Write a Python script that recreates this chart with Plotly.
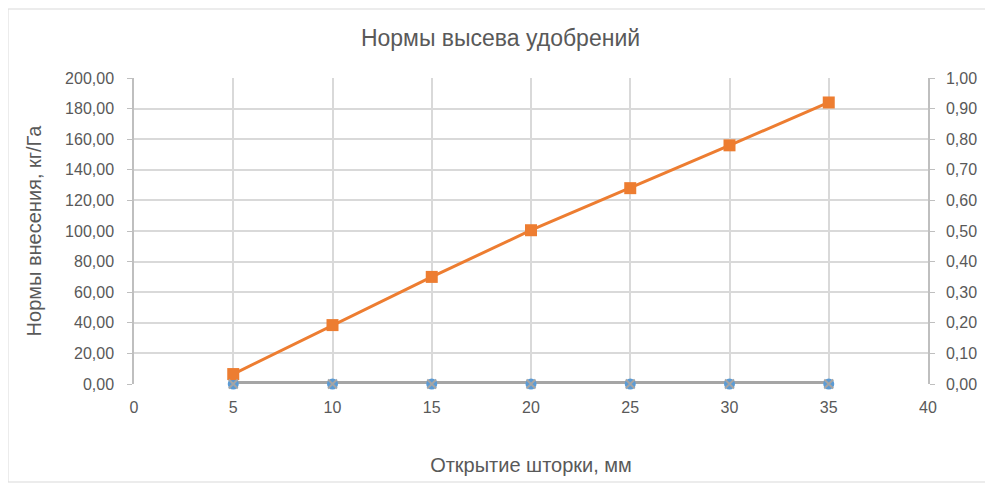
import plotly.graph_objects as go

# Data
opening_mm = [5, 10, 15, 20, 25, 30, 35]
rate_kg_ha = [6.5, 38.5, 70.0, 100.5, 128.0, 156.0, 184.0]
series_blue = [0, 0, 0, 0, 0, 0, 0]
series_gray = [0, 0, 0, 0, 0, 0, 0]

x_ticks = [0, 5, 10, 15, 20, 25, 30, 35, 40]

FONT = "Liberation Sans, Arial, sans-serif"
TICK_COLOR = "#595959"
GRID = "#D9D9D9"
AXIS = "#BFBFBF"

fig = go.Figure()

# gray series line drawn first so the blue markers sit on it
fig.add_trace(go.Scatter(
    x=opening_mm, y=series_gray, mode="lines",
    line=dict(color="#A5A5A5", width=6),
    showlegend=False,
))
fig.add_trace(go.Scatter(
    x=opening_mm, y=series_blue, mode="markers", cliponaxis=False,
    marker=dict(symbol="circle", size=11, color="#5B9BD5"),
    showlegend=False,
))
fig.add_trace(go.Scatter(
    x=opening_mm, y=rate_kg_ha, mode="lines+markers", cliponaxis=False,
    line=dict(color="#ED7D31", width=3),
    marker=dict(symbol="square", size=12, color="#ED7D31"),
    showlegend=False,
))
fig.add_trace(go.Scatter(
    x=opening_mm, y=series_gray, mode="markers", yaxis="y2", cliponaxis=False,
    marker=dict(symbol="x-thin", size=9, line=dict(color="#A5A5A5", width=2)),
    showlegend=False,
))

# page body adds an 8px offset, so the figure is sized 8px smaller
fig.update_layout(
    width=985, height=475,
    paper_bgcolor="white", plot_bgcolor="white",
    separators=", ",
    font=dict(family=FONT, size=16, color=TICK_COLOR),
    margin=dict(l=126, r=65, t=70, b=99),
    title=dict(text="Нормы высева удобрений", x=0.5, xanchor="center",
               y=1 - 30 / 475, yanchor="middle",
               font=dict(size=23, color=TICK_COLOR)),
    xaxis=dict(
        range=[0, 40], tickvals=x_ticks, showgrid=True, gridcolor=GRID,
        gridwidth=1.5, zeroline=False, showline=False,
        ticks="", ticklabelstandoff=12,
        title=dict(text="Открытие шторки, мм", standoff=42,
                   font=dict(size=20, color=TICK_COLOR)),
    ),
    yaxis=dict(
        range=[0, 200], dtick=20, tickformat=".2f", showgrid=True,
        gridcolor=GRID, gridwidth=1.5, zeroline=False,
        showline=True, linecolor=AXIS, linewidth=1.5,
        ticks="outside", ticklen=5, tickcolor=AXIS, ticklabelstandoff=10,
        title=dict(text="Нормы внесения, кг/Га", standoff=18,
                   font=dict(size=20, color=TICK_COLOR)),
    ),
    yaxis2=dict(
        range=[0, 1], dtick=0.1, tickformat=".2f", overlaying="y",
        side="right", showgrid=False, zeroline=False, showline=True,
        linecolor=AXIS, linewidth=1.5,
        ticks="outside", ticklen=5, tickcolor=AXIS, ticklabelstandoff=8,
    ),
    shapes=[dict(type="rect", xref="paper", yref="paper",
                 x0=-126 / 794, x1=1 + 64 / 794, y0=-98 / 306, y1=1 + 69 / 306,
                 line=dict(color="#D9D9D9", width=1))],
)

fig.write_html("out.html")
